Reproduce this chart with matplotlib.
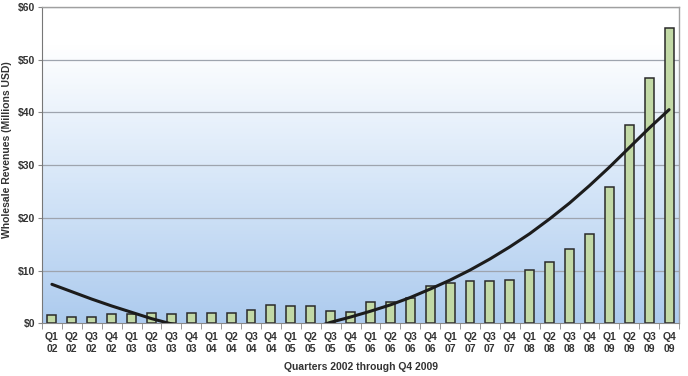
import numpy as np
import matplotlib
matplotlib.use("Agg")
import matplotlib.pyplot as plt
from matplotlib.colors import LinearSegmentedColormap

# Quarters Q1 2002 .. Q4 2009
quarters = [f"Q{q}\n{y:02d}" for y in range(2, 10) for q in range(1, 5)]

# wholesale revenues, millions USD
revenues = [1.6, 1.25, 1.3, 1.7, 1.8, 1.9, 1.8, 2.0,
            1.9, 1.9, 2.5, 3.5, 3.2, 3.25, 2.35, 2.15,
            4.1, 4.0, 4.9, 7.1, 7.6, 8.1, 8.0, 8.2,
            10.2, 11.6, 14.0, 16.9, 25.8, 37.6, 46.5, 56.0]

# trend line values at each quarter (dips below 0 and is clipped)
trend = [7.4, 6.0, 4.6, 3.3, 2.1, 0.9, -0.1, -0.9,
         -1.6, -2.1, -2.4, -2.4, -2.0, -1.0, 0.2, 1.2,
         2.3, 3.5, 4.9, 6.5, 8.2, 10.1, 12.2, 14.5,
         17.0, 19.8, 22.8, 26.1, 29.6, 33.3, 37.0, 40.5]

yticks = [0, 10, 20, 30, 40, 50, 60]

plt.rcParams['font.family'] = ['Liberation Sans', 'DejaVu Sans']

fig = plt.figure(figsize=(6.88, 3.76), dpi=100)
ax = fig.add_axes([0.061, 0.140, 0.926, 0.842])

x = np.arange(len(quarters))

# background gradient: white near top, light blue at bottom
cmap = LinearSegmentedColormap.from_list("bg", ["#adcbee", "#d6e6f8", "#ffffff"])
grad = np.linspace(0, 1, 256).reshape(-1, 1)
grad = np.clip(grad / 0.88, 0, 1)
ax.imshow(grad, aspect='auto', cmap=cmap, origin='lower',
          extent=[-0.5, len(quarters) - 0.5, 0, 60], zorder=0)

for v in yticks[1:]:
    ax.axhline(v, color='#9ea4ae', lw=0.9, zorder=1)

ax.bar(x, revenues, width=0.45, color='#c2d9a6', edgecolor='#2a2a2a',
       linewidth=1.1, zorder=2)
ax.plot(x, trend, color='#1c1c1c', lw=2.2, zorder=3, solid_capstyle='round')

ax.set_xlim(-0.5, len(quarters) - 0.5)
ax.set_ylim(0, 60)
ax.set_yticks(yticks)
ax.set_yticklabels([f"${v}" for v in yticks], fontsize=7.5, fontweight='bold',
                   color='#333333')
ax.set_xticks(x)
ax.set_xticklabels(quarters, fontsize=7.5, fontweight='bold', color='#333333',
                   linespacing=1.25)
ax.set_xticks(np.arange(len(quarters) + 1) - 0.5, minor=True)
ax.tick_params(axis='x', which='major', length=0, pad=6)
ax.tick_params(axis='x', which='minor', length=4, color='#888888')
ax.tick_params(axis='y', length=3, color='#888888', pad=2)

for s in ['top', 'right']:
    ax.spines[s].set_color('#a0a0a0')
    ax.spines[s].set_linewidth(1.0)
ax.spines['left'].set_color('#777777')
ax.spines['bottom'].set_color('#888888')

ax.set_ylabel('Wholesale Revenues (Millions USD)', fontsize=7.5,
              fontweight='bold', color='#333333')
ax.yaxis.set_label_coords(-0.047, 0.55)
ax.set_xlabel('Quarters 2002 through Q4 2009', fontsize=7.5,
              fontweight='bold', color='#333333', labelpad=6)

fig.savefig('out.png', dpi=100)
